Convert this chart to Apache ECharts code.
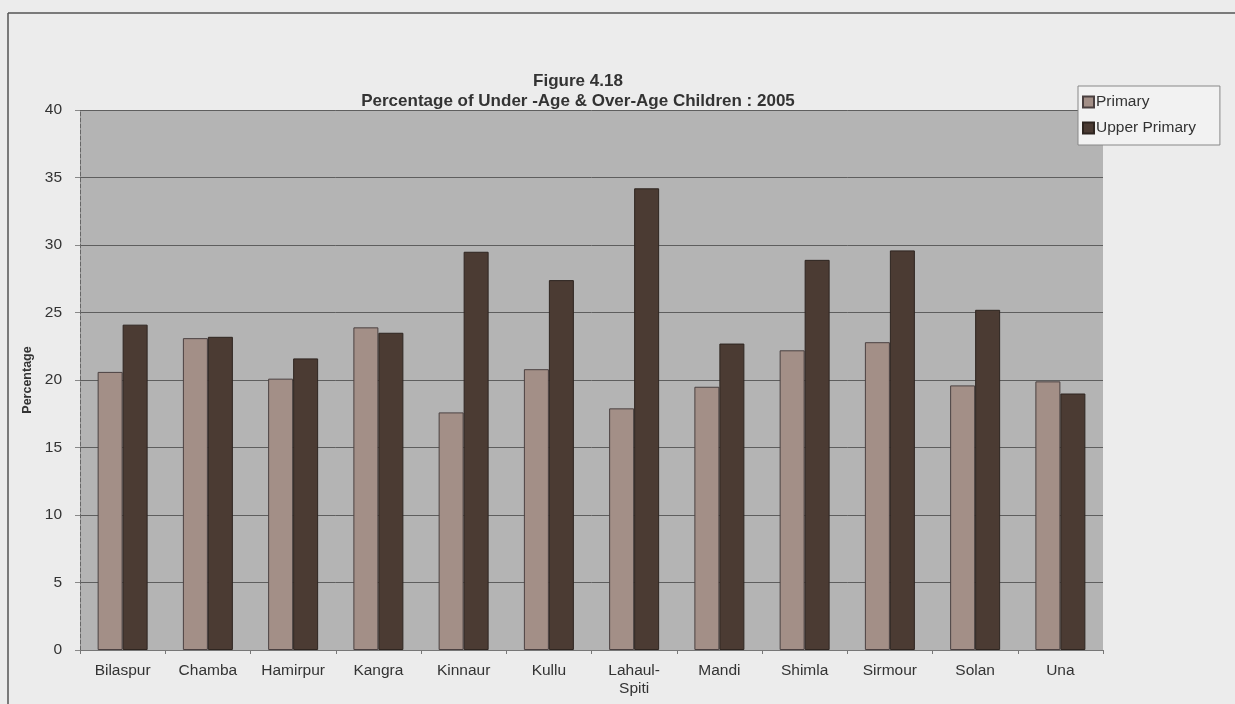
<!DOCTYPE html>
<html>
<head>
<meta charset="utf-8">
<script src="https://cdn.jsdelivr.net/npm/echarts@6/dist/echarts.min.js"></script>
<style>
html,body{margin:0;padding:0;background:#ececec;}
#chart{width:1235px;height:704px;}
</style>
</head>
<body>
<div id="chart"></div>
<script>
const categories = ['Bilaspur','Chamba','Hamirpur','Kangra','Kinnaur','Kullu','Lahaul-\nSpiti','Mandi','Shimla','Sirmour','Solan','Una'];
const primary = [20.6, 23.1, 20.1, 23.9, 17.6, 20.8, 17.9, 19.5, 22.2, 22.8, 19.6, 19.9];
const upperPrimary = [24.1, 23.2, 21.6, 23.5, 29.5, 27.4, 34.2, 22.7, 28.9, 29.6, 25.2, 19.0];
const yTicks = [0, 5, 10, 15, 20, 25, 30, 35, 40];

const chart = echarts.init(document.getElementById('chart'));
const font = 'Liberation Sans, Arial, sans-serif';
chart.setOption({
  backgroundColor: '#ececec',
  animation: false,
  title: {
    text: 'Figure 4.18\nPercentage of Under -Age & Over-Age Children : 2005',
    left: 573, top: 66, textAlign: 'center',
    textStyle: {fontFamily: font, fontSize: 17, fontWeight: 'bold', color: '#333', lineHeight: 20}
  },
  legend: {
    orient: 'vertical', left: 1078, top: 86,
    icon: 'rect',
    itemWidth: 11, itemHeight: 11, itemGap: 10,
    padding: [8, 24, 9, 4],
    borderColor: '#888', borderWidth: 1, backgroundColor: '#f2f2f2',
    textStyle: {fontFamily: font, fontSize: 15.5, color: '#333', padding: [0,0,0,-3]},
    data: ['Primary', 'Upper Primary']
  },
  graphic: [
    {type: 'line', shape: {x1: 8, y1: 13, x2: 1235, y2: 13}, style: {stroke: '#555', lineWidth: 1.5}},
    {type: 'line', shape: {x1: 8, y1: 13, x2: 8, y2: 704}, style: {stroke: '#555', lineWidth: 1.5}}
  ],
  grid: {left: 80, right: 132, top: 110, bottom: 54, show: true, backgroundColor: '#b4b4b4', borderWidth: 0},
  xAxis: {
    type: 'category', data: categories,
    axisLine: {lineStyle: {color: '#777', width: 1}},
    axisTick: {show: true, length: 4, lineStyle: {color: '#777'}},
    axisLabel: {fontFamily: font, fontSize: 15.5, color: '#333', margin: 12, lineHeight: 18}
  },
  yAxis: {
    type: 'value', min: 0, max: 40, interval: 5,
    name: 'Percentage', nameLocation: 'middle', nameGap: 46, nameRotate: 90,
    nameTextStyle: {fontFamily: font, fontSize: 12.5, fontWeight: 'bold', color: '#333'},
    axisLine: {show: true, lineStyle: {color: '#666', width: 1, type: 'dashed'}},
    axisTick: {show: true, length: 5, lineStyle: {color: '#888'}},
    axisLabel: {fontFamily: font, fontSize: 15.5, color: '#333', margin: 18,
      formatter: v => yTicks.includes(v) ? String(v) : ''},
    splitLine: {show: true, lineStyle: {color: '#5e5e5e', width: 1}}
  },
  series: [
    {name: 'Primary', type: 'bar', data: primary, barWidth: 25, barGap: '0%',
     itemStyle: {color: '#a38f87', borderColor: '#4a4040', borderWidth: 1}},
    {name: 'Upper Primary', type: 'bar', data: upperPrimary, barWidth: 25,
     itemStyle: {color: '#4b3b33', borderColor: '#2e2520', borderWidth: 1}}
  ]
});
</script>
</body>
</html>
